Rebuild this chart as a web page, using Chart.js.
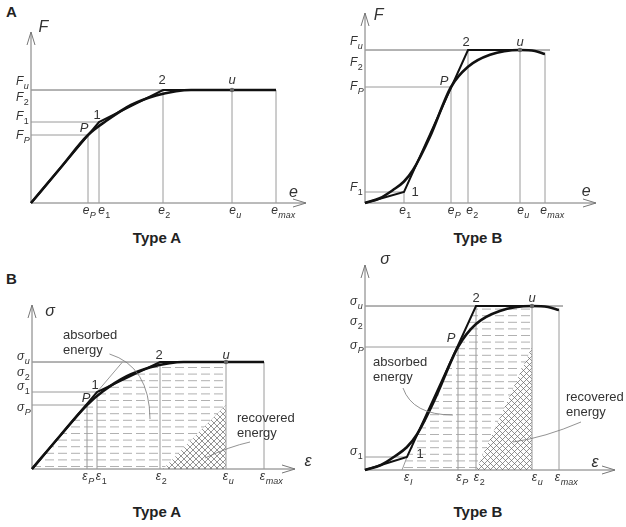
<!DOCTYPE html>
<html lang="en">
<head>
<meta charset="UTF-8" />
<title>Type A / Type B curves</title>
<script src="https://cdn.jsdelivr.net/npm/chart.js"></script>
<style>
  body { margin: 0; background: #fff; width: 626px; height: 527px; overflow: hidden; position: relative;
         font-family: "Liberation Sans", Arial, sans-serif; color: #222; }
  canvas { position: absolute; }
  .tag { position: absolute; font-weight: bold; font-size: 15px; }
  .title { position: absolute; font-weight: bold; font-size: 15px; transform: translateX(-50%); white-space: nowrap; }
</style>
</head>
<body>
<div class="tag" style="left:6px;top:3px">A</div>
<div class="tag" style="left:6px;top:270px">B</div>
<div class="title" style="left:157px;top:229px">Type A</div>
<div class="title" style="left:478px;top:229px">Type B</div>
<div class="title" style="left:157px;top:503px">Type A</div>
<div class="title" style="left:478px;top:503px">Type B</div>
<canvas id="fA" width="313" height="250" style="left:0;top:0"></canvas>
<canvas id="fB" width="313" height="250" style="left:313px;top:0"></canvas>
<canvas id="sA" width="313" height="277" style="left:0;top:250px"></canvas>
<canvas id="sB" width="313" height="277" style="left:313px;top:250px"></canvas>
<script>
// ---- A, Type A : force F vs elongation e
const fA_eVals = [2.28, 2.72, 5.28, 8.04, 9.8];
const fA_eTops = [2.72, 3.24, 4.52, 4.52, 4.52];
const fA_eLabels = [["e", "P"], ["e", "1"], ["e", "2"], ["e", "u"], ["e", "max"]];
const fA_FVals = [2.72, 3.24, 4.52, 4.52];
const fA_FEnds = [2.28, 2.72, 9.8, 9.8];
const fA_FLabels = [["F", "P"], ["F", "1"], ["F", "2"], ["F", "u"]];
const fA_linear = [[0, 0], [2.72, 3.24], [5.28, 4.52], [9.8, 4.52]];
const fA_curve = [[0, 0], [1.2, 1.43], [2.28, 2.72], [3.0, 3.28], [4.0, 3.92], [5.0, 4.3], [5.8, 4.47], [6.4, 4.52], [9.8, 4.52]];
const fA_points = [[2.28, 2.72], [2.72, 3.24], [5.28, 4.52], [8.04, 4.52]];
const fA_pointNames = ["P", "1", "2", "u"];

// ---- A, Type B
const fB_eVals = [1.56, 3.44, 4.12, 6.2, 7.2];
const fB_eTops = [0.44, 4.64, 6.12, 6.12, 5.96];
const fB_eLabels = [["e", "1"], ["e", "P"], ["e", "2"], ["e", "u"], ["e", "max"]];
const fB_FVals = [6.12, 6.12, 4.64, 0.44];
const fB_FEnds = [7.4, 7.4, 3.44, 1.56];
const fB_FLabels = [["F", "u"], ["F", "2"], ["F", "P"], ["F", "1"]];
const fB_linear = [[0, 0], [1.56, 0.44], [4.12, 6.12], [6.2, 6.12]];
const fB_curve = [[0, 0], [0.59, 0.19], [1.12, 0.52], [1.55, 0.85], [1.92, 1.32], [2.59, 2.63], [3.44, 4.64], [4.12, 5.45], [5.0, 5.93], [6.2, 6.12], [6.8, 6.08], [7.2, 5.96]];
const fB_points = [[4.12, 6.12], [6.2, 6.12], [3.44, 4.64], [1.56, 0.44]];
const fB_pointNames = ["2", "u", "P", "1"];

// ---- B, Type A : stress vs strain
const sA_eVals = [2.2, 2.6, 5.12, 7.76, 9.28];
const sA_eTops = [2.56, 3.08, 4.28, 4.28, 4.28];
const sA_eLabels = [["ε", "P"], ["ε", "1"], ["ε", "2"], ["ε", "u"], ["ε", "max"]];
const sA_sVals = [4.28, 4.28, 3.08, 2.56];
const sA_sEnds = [9.28, 9.28, 2.6, 2.2];
const sA_sLabels = [["σ", "u"], ["σ", "2"], ["σ", "1"], ["σ", "P"]];
const sA_linear = [[0, 0], [2.6, 3.08], [5.12, 4.28], [9.28, 4.28]];
const sA_curve = [[0, 0], [1.14, 1.35], [2.2, 2.56], [2.84, 3.11], [3.79, 3.71], [4.74, 4.07], [5.49, 4.23], [6.06, 4.28], [9.28, 4.28]];
const sA_elastic = [[2.6, 3.08], [3.62, 4.28]];
const sA_points = [[2.6, 3.08], [2.2, 2.56], [5.12, 4.28], [7.76, 4.28]];
const sA_pointNames = ["1", "P", "2", "u"];
const sA_absorbed = [[0, 0], [2.6, 3.08], [5.12, 4.28], [7.76, 4.28], [7.76, 0]];
const sA_recovered = [[5.24, 0], [7.76, 2.56], [7.76, 0]];

// ---- B, Type B
const sB_eVals = [1.68, 3.72, 4.44, 6.68, 7.76];
const sB_eTops = [null, 4.92, 6.56, 6.56, 6.4];
const sB_eLabels = [["ε", "I"], ["ε", "P"], ["ε", "2"], ["ε", "u"], ["ε", "max"]];
const sB_sVals = [6.56, 6.56, 4.92, 0.52];
const sB_sEnds = [7.92, 7.92, 3.72, 1.68];
const sB_sLabels = [["σ", "u"], ["σ", "2"], ["σ", "P"], ["σ", "1"]];
const sB_linear = [[0, 0], [1.68, 0.52], [4.44, 6.56], [6.68, 6.56]];
const sB_curve = [[0, 0], [0.64, 0.2], [1.21, 0.56], [1.67, 0.91], [2.07, 1.41], [2.79, 2.82], [3.72, 4.92], [4.44, 5.84], [5.39, 6.36], [6.68, 6.56], [7.32, 6.52], [7.76, 6.4]];
const sB_elastic = [[1.48, 0], [1.68, 0.52]];
const sB_points = [[4.44, 6.56], [6.68, 6.56], [3.72, 4.92], [1.68, 0.52]];
const sB_pointNames = ["2", "u", "P", "1"];
const sB_absorbed = [[1.48, 0], [1.68, 0.52], [4.44, 6.56], [6.68, 6.56], [6.68, 0]];
const sB_recovered = [[4.44, 0], [6.68, 4.92], [6.68, 0]];

const U = 25; // pixels per unit, same on both axes
const FONT = '"Liberation Sans", Arial, sans-serif';
const INK = "#111";
const TXT = "#333";

// layout of each panel (page placement of the origin, label nudges, annotations)
const panels = {
  fA: {
    left: 0, top: 0, w: 313, h: 250, ox: 31, oy: 203, xMax: 11, yMax: 6.84,
    xVals: fA_eVals, xTops: fA_eTops, xLabels: fA_eLabels, xNudge: [1, 5, 1, 3, 7],
    yVals: fA_FVals, yEnds: fA_FEnds, yLabels: fA_FLabels, yNudge: [1, -5, 8, -8],
    curve: fA_curve, linear: fA_linear, points: fA_points, names: fA_pointNames,
    ptNudge: [[-4, -7], [-2, -7], [-1, -10], [0, -10]], uIdx: 3,
    yTitle: ["F", 0.5, 7.0], xTitle: ["e", 10.5, 0.4]
  },
  fB: {
    left: 313, top: 0, w: 313, h: 250, ox: 365, oy: 203, xMax: 9.24, yMax: 7.6,
    xVals: fB_eVals, xTops: fB_eTops, xLabels: fB_eLabels, xNudge: [1, 3, 4, 3, 7],
    yVals: fB_FVals, yEnds: fB_FEnds, yLabels: fB_FLabels, yNudge: [-8, 13, 0, -4],
    curve: fB_curve, linear: fB_linear, points: fB_points, names: fB_pointNames,
    ptNudge: [[-2, -8], [0, -8], [-7, -6], [11, 0]], uIdx: 1,
    yTitle: ["F", 0.55, 7.5], xTitle: ["e", 8.85, 0.44]
  },
  sA: {
    left: 0, top: 250, w: 313, h: 277, ox: 32, oy: 469, xMax: 10.52, yMax: 6.56,
    xVals: sA_eVals, xTops: sA_eTops, xLabels: sA_eLabels, xNudge: [1, 4, 1, 2, 7],
    yVals: sA_sVals, yEnds: sA_sEnds, yLabels: sA_sLabels, yNudge: [-5, 11, -5, 3],
    curve: sA_curve, linear: sA_linear, extra: sA_elastic, points: sA_points, names: sA_pointNames,
    ptNudge: [[-2, -7], [-1, -7], [-1, -7], [0, -7]], uIdx: 3,
    yTitle: ["σ", 0.72, 6.28], xTitle: ["ε", 11.04, 0.28],
    absorbed: sA_absorbed, recovered: sA_recovered,
    notes: [
      { lines: ["absorbed", "energy"], at: [1.24, 5.36], leader: [[3.1, 4.6], [4.7, 4.1], [4.72, 2.0]] },
      { lines: ["recovered", "energy"], at: [8.2, 2.04], leader: [[8.72, 1.08], [7.9, 0.9], [6.92, 0.44]] }
    ]
  },
  sB: {
    left: 313, top: 250, w: 313, h: 277, ox: 365, oy: 470, xMax: 10, yMax: 8.2,
    xVals: sB_eVals, xTops: sB_eTops, xLabels: sB_eLabels, xNudge: [1, 4, 3, 5, 7],
    yVals: sB_sVals, yEnds: sB_sEnds, yLabels: sB_sLabels, yNudge: [-4, 16, -1, -5],
    curve: sB_curve, linear: sB_linear, extra: sB_elastic, points: sB_points, names: sB_pointNames,
    ptNudge: [[0, -8], [0, -8], [-7, -9], [13, -3]], uIdx: 1,
    yTitle: ["σ", 0.8, 8.4], xTitle: ["ε", 9.2, 0.28],
    absorbed: sB_absorbed, recovered: sB_recovered,
    notes: [
      { lines: ["absorbed", "energy"], at: [0.32, 4.32], leader: [[1.52, 3.28], [1.9, 2.2], [3.52, 2.2]] },
      { lines: ["recovered", "energy"], at: [8.04, 2.92], leader: [[8.64, 1.92], [7.2, 1.3], [5.92, 1.12]] }
    ]
  }
};

function label(ctx, base, sub, x, y, align, size) {
  const subSize = Math.round(size * 0.72);
  const bFont = (/^\d+$/.test(base) ? "" : "italic ") + size + "px " + FONT;
  const sFont = (/^\d+$/.test(sub) ? "" : "italic ") + subSize + "px " + FONT;
  ctx.font = bFont;
  const bw = ctx.measureText(base).width;
  ctx.font = sFont;
  const sw = sub ? ctx.measureText(sub).width : 0;
  const x0 = align === "center" ? x - (bw + sw) / 2 : x;
  ctx.textAlign = "left";
  ctx.textBaseline = "middle";
  ctx.fillStyle = TXT;
  ctx.font = bFont;
  ctx.fillText(base, x0, y);
  if (sub) {
    ctx.font = sFont;
    ctx.fillText(sub, x0 + bw + 0.5, y + size * 0.35);
  }
}

function tracePoly(ctx, xs, ys, pts) {
  ctx.beginPath();
  pts.forEach((p, i) => {
    const X = xs.getPixelForValue(p[0]), Y = ys.getPixelForValue(p[1]);
    i ? ctx.lineTo(X, Y) : ctx.moveTo(X, Y);
  });
  ctx.closePath();
}

const diagram = {
  id: "diagram",
  beforeDatasetsDraw(chart) {
    const p = panels[chart.canvas.id];
    const ctx = chart.ctx, xs = chart.scales.x, ys = chart.scales.y;
    const a = chart.chartArea;
    const X0 = xs.getPixelForValue(0), Y0 = ys.getPixelForValue(0);
    ctx.save();
    if (p.absorbed) {
      // dashed fill for absorbed energy
      ctx.save();
      tracePoly(ctx, xs, ys, p.absorbed);
      ctx.clip();
      ctx.strokeStyle = "#a8a8a8";
      ctx.lineWidth = 0.9;
      ctx.setLineDash([9, 4]);
      for (let y = Y0 - 2.5; y > a.top; y -= 6.6) {
        ctx.beginPath();
        ctx.moveTo(X0, y);
        ctx.lineTo(a.right, y);
        ctx.stroke();
      }
      ctx.restore();
      // cross hatch for recovered energy
      ctx.save();
      tracePoly(ctx, xs, ys, p.recovered);
      ctx.fillStyle = "#fff";
      ctx.fill();
      ctx.clip();
      ctx.strokeStyle = "#666";
      ctx.lineWidth = 0.7;
      const H = a.bottom - a.top;
      for (let x = a.left - H; x < a.right + H; x += 6) {
        ctx.beginPath();
        ctx.moveTo(x, a.bottom);
        ctx.lineTo(x + H, a.top);
        ctx.moveTo(x, a.top);
        ctx.lineTo(x + H, a.bottom);
        ctx.stroke();
      }
      ctx.restore();
    }
    // axes with open arrow heads
    ctx.strokeStyle = "#777";
    ctx.lineWidth = 1;
    ctx.beginPath();
    ctx.moveTo(X0, Y0); ctx.lineTo(X0, a.top);
    ctx.moveTo(X0 - 4, a.top + 13); ctx.lineTo(X0, a.top); ctx.lineTo(X0 + 4, a.top + 13);
    ctx.moveTo(X0, Y0); ctx.lineTo(a.right, Y0);
    ctx.moveTo(a.right - 13, Y0 - 4); ctx.lineTo(a.right, Y0); ctx.lineTo(a.right - 13, Y0 + 4);
    ctx.stroke();
    ctx.restore();
  },
  afterDatasetsDraw(chart) {
    const p = panels[chart.canvas.id];
    const ctx = chart.ctx, xs = chart.scales.x, ys = chart.scales.y;
    const X0 = xs.getPixelForValue(0), Y0 = ys.getPixelForValue(0);
    ctx.save();
    p.xVals.forEach((v, i) => {
      label(ctx, p.xLabels[i][0], p.xLabels[i][1], xs.getPixelForValue(v) + p.xNudge[i], Y0 + 8, "center", 12);
    });
    p.yVals.forEach((v, i) => {
      label(ctx, p.yLabels[i][0], p.yLabels[i][1], X0 - 15, ys.getPixelForValue(v) + p.yNudge[i], "left", 12);
    });
    p.points.forEach((pt, i) => {
      label(ctx, p.names[i], "", xs.getPixelForValue(pt[0]) + p.ptNudge[i][0], ys.getPixelForValue(pt[1]) + p.ptNudge[i][1], "center", 13);
    });
    label(ctx, p.yTitle[0], "", xs.getPixelForValue(p.yTitle[1]), ys.getPixelForValue(p.yTitle[2]), "center", 16);
    label(ctx, p.xTitle[0], "", xs.getPixelForValue(p.xTitle[1]), ys.getPixelForValue(p.xTitle[2]), "center", 16);
    (p.notes || []).forEach(n => {
      ctx.font = "13px " + FONT;
      ctx.fillStyle = TXT;
      ctx.textAlign = "left";
      ctx.textBaseline = "middle";
      n.lines.forEach((t, k) => ctx.fillText(t, xs.getPixelForValue(n.at[0]), ys.getPixelForValue(n.at[1]) + k * 15));
      const [s, c, e] = n.leader.map(q => [xs.getPixelForValue(q[0]), ys.getPixelForValue(q[1])]);
      ctx.strokeStyle = "#777";
      ctx.lineWidth = 0.8;
      ctx.beginPath();
      ctx.moveTo(s[0], s[1]);
      ctx.quadraticCurveTo(c[0], c[1], e[0], e[1]);
      ctx.stroke();
    });
    ctx.restore();
  }
};

const xy = arr => arr.map(q => ({ x: q[0], y: q[1] }));
const guide = pts => ({ data: xy(pts), borderColor: "#9a9a9a", borderWidth: 1, pointRadius: 0 });

Object.keys(panels).forEach(id => {
  const p = panels[id];
  const pad = {
    left: p.ox - p.left,
    right: p.left + p.w - (p.ox + p.xMax * U),
    top: p.oy - p.yMax * U - p.top,
    bottom: p.top + p.h - p.oy
  };
  const guides = [];
  p.xVals.forEach((v, i) => { if (p.xTops[i] !== null) guides.push(guide([[v, 0], [v, p.xTops[i]]])); });
  p.yVals.forEach((v, i) => guides.push(guide([[0, v], [p.yEnds[i], v]])));
  if (p.extra) guides.push(guide(p.extra));
  new Chart(document.getElementById(id), {
    type: "line",
    data: {
      datasets: [
        { data: xy([p.points[p.uIdx]]), showLine: false, pointRadius: 2.2, pointBackgroundColor: "#666", pointBorderWidth: 0 },
        { data: xy(p.curve), borderColor: INK, borderWidth: 2.6, pointRadius: 0, cubicInterpolationMode: "monotone" },
        { data: xy(p.linear), borderColor: INK, borderWidth: 2, pointRadius: 0 },
        ...guides
      ]
    },
    options: {
      responsive: false,
      animation: false,
      events: [],
      clip: false,
      layout: { padding: pad },
      scales: {
        x: { type: "linear", min: 0, max: p.xMax, display: false },
        y: { type: "linear", min: 0, max: p.yMax, display: false }
      },
      plugins: { legend: { display: false }, tooltip: { enabled: false } }
    },
    plugins: [diagram]
  });
});
</script>
</body>
</html>
